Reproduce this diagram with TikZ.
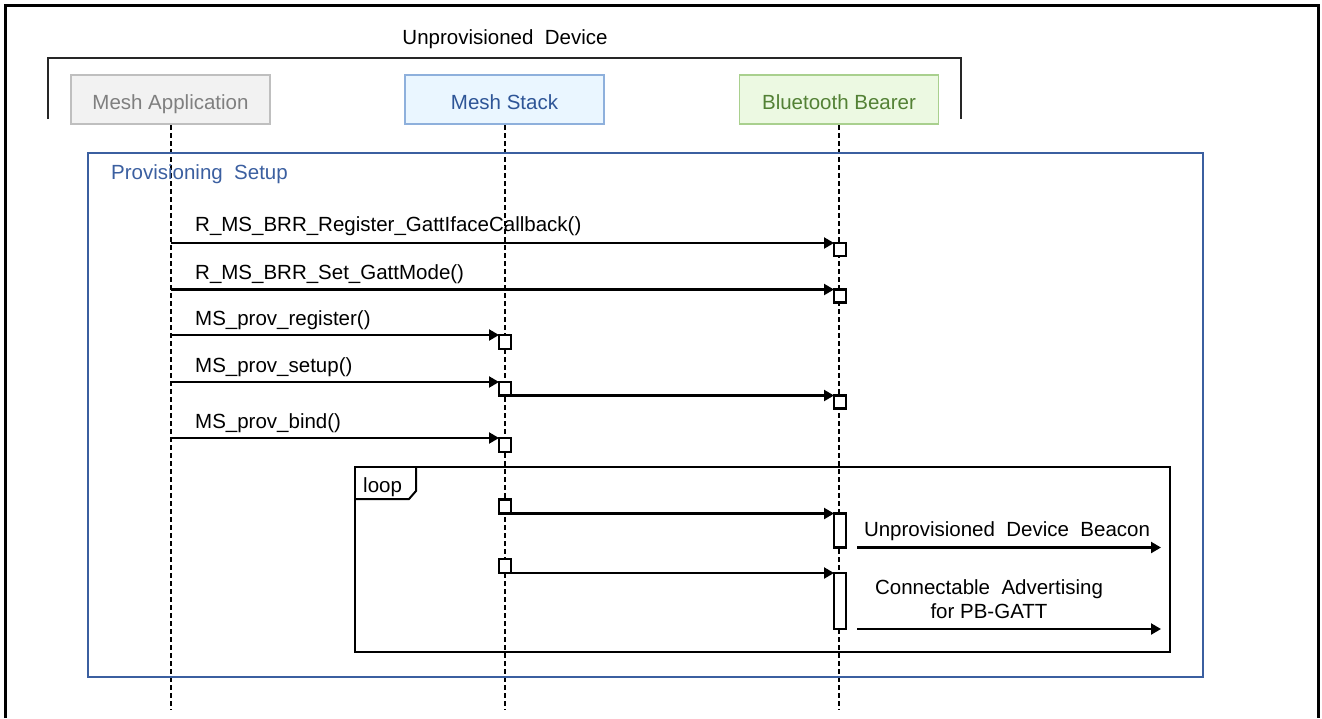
\documentclass[tikz,border=0pt]{standalone}
\usepackage{fontspec}
\setmainfont{Liberation Sans}
\usetikzlibrary{arrows.meta}
\definecolor{appBorder}{RGB}{191,191,191}
\definecolor{appFill}{RGB}{242,242,242}
\definecolor{appText}{RGB}{127,127,127}
\definecolor{stkBorder}{RGB}{142,176,220}
\definecolor{stkFill}{RGB}{234,246,255}
\definecolor{stkText}{RGB}{46,85,151}
\definecolor{btBorder}{RGB}{169,208,142}
\definecolor{btFill}{RGB}{236,249,226}
\definecolor{btText}{RGB}{83,129,53}
\definecolor{frameBlue}{RGB}{59,95,160}
\begin{document}
\begin{tikzpicture}[x=1pt,y=-1pt,
  font=\fontsize{20.5}{24}\selectfont,
  lifebox/.style={draw, line width=1.6pt, minimum width=199pt, minimum height=49pt, inner sep=0pt, text height=19pt, text depth=0.5pt},
  lifeline/.style={line width=2pt, dash pattern=on 5pt off 3pt},
  actbox/.style={draw, fill=white, line width=2.2pt, anchor=north west, minimum width=12pt, inner sep=0pt, outer sep=0pt},
  msg/.style={line width=2.2pt, -{Triangle[length=10pt,width=11pt]}},
  lbl/.style={anchor=base west, inner sep=0pt},
  ctr/.style={anchor=base, inner sep=0pt}]
\useasboundingbox (0,0) rectangle (1322,718);

% outer frame (open at bottom)
\draw[line width=3pt] (5,718) -- (5,5) -- (1318,5) -- (1318,718);

% device bracket
\node[ctr] (dev) at (505,44) {Unprovisioned\ \ Device};
\draw[line width=2.2pt, black!85] (48,119) -- (48,58) -- (961,58) -- (961,119);

% lifeline heads
\node[lifebox, draw=appBorder, fill=appFill, text=appText] (app) at (170.5,99.75) {Mesh Application};
\node[lifebox, draw=stkBorder, fill=stkFill, text=stkText] (stk) at (504.5,99.75) {Mesh Stack};
\node[lifebox, draw=btBorder, fill=btFill, text=btText] (bt) at (839,99.75) {Bluetooth Bearer};
\coordinate (appEnd) at (170.5,710);
\coordinate (stkEnd) at (504.5,710);
\coordinate (btEnd) at (839,710);
\draw[lifeline] (app.south) -- (appEnd);
\draw[lifeline] (stk.south) -- (stkEnd);
\draw[lifeline] (bt.south) -- (btEnd);

% provisioning setup frame
\draw[line width=2.2pt, frameBlue] (88,153) rectangle (1203,677);
\node[lbl, text=frameBlue] (ps) at (111,179) {Provisioning\ \ Setup};

% messages
\coordinate (s1) at (170.5,243);
\coordinate (s2) at (170.5,289.5);
\coordinate (s3) at (170.5,335);
\coordinate (s4) at (170.5,382);
\coordinate (s5) at (170.5,438);

\node[actbox, minimum height=13pt] (r1) at (834,243) {};
\node[actbox, minimum height=13pt] (r2) at (834,289.5) {};
\node[actbox, minimum height=14pt] (r3) at (499,335) {};
\node[actbox, minimum height=13.5pt] (r4) at (499,382) {};
\node[actbox, minimum height=13pt] (r4b) at (834,395.5) {};
\node[actbox, minimum height=14pt] (r5) at (499,438) {};

\draw[msg] (s1) -- (r1.north west);
\draw[msg] (s2) -- (r2.north west);
\draw[msg] (s3) -- (r3.north west);
\draw[msg] (s4) -- (r4.north west);
\draw[msg] (r4.south east) -- (r4b.north west);
\draw[msg] (s5) -- (r5.north west);

\node[lbl] (t1) at (195,231) {R\_MS\_BRR\_Register\_GattIfaceCallback()};
\node[lbl] (t2) at (195,279) {R\_MS\_BRR\_Set\_GattMode()};
\node[lbl] (t3) at (195,325) {MS\_prov\_register()};
\node[lbl] (t4) at (195,372) {MS\_prov\_setup()};
\node[lbl] (t5) at (195,428) {MS\_prov\_bind()};

% loop frame
\draw[line width=2.2pt] (355,467) rectangle (1170,652);
\draw[line width=2pt] (355,499) -- (409,499) -- (416,491) -- (416,467);
\node[lbl] (lp) at (363,492) {loop};

\node[actbox, minimum height=14pt] (l1) at (499,499.5) {};
\node[actbox, minimum height=34pt] (b1) at (834,513.5) {};
\draw[msg] (l1.south east) -- (b1.north west);
\coordinate (bcS) at (857,547.5);
\coordinate (bcE) at (1161,547.5);
\draw[msg] (bcS) -- (bcE);
\node[ctr] (bcl) at (1007,536) {Unprovisioned\ \ Device\ \ Beacon};

\node[actbox, minimum height=14pt] (l2) at (499,559) {};
\node[actbox, minimum height=56pt] (b2) at (834,573) {};
\draw[msg] (l2.south east) -- (b2.north west);
\coordinate (caS) at (857,629);
\coordinate (caE) at (1161,629);
\draw[msg] (caS) -- (caE);
\node[align=center, inner sep=0pt, anchor=base] (cal) at (989,618) {Connectable\ \ Advertising\\for PB-GATT};
\end{tikzpicture}
\end{document}
